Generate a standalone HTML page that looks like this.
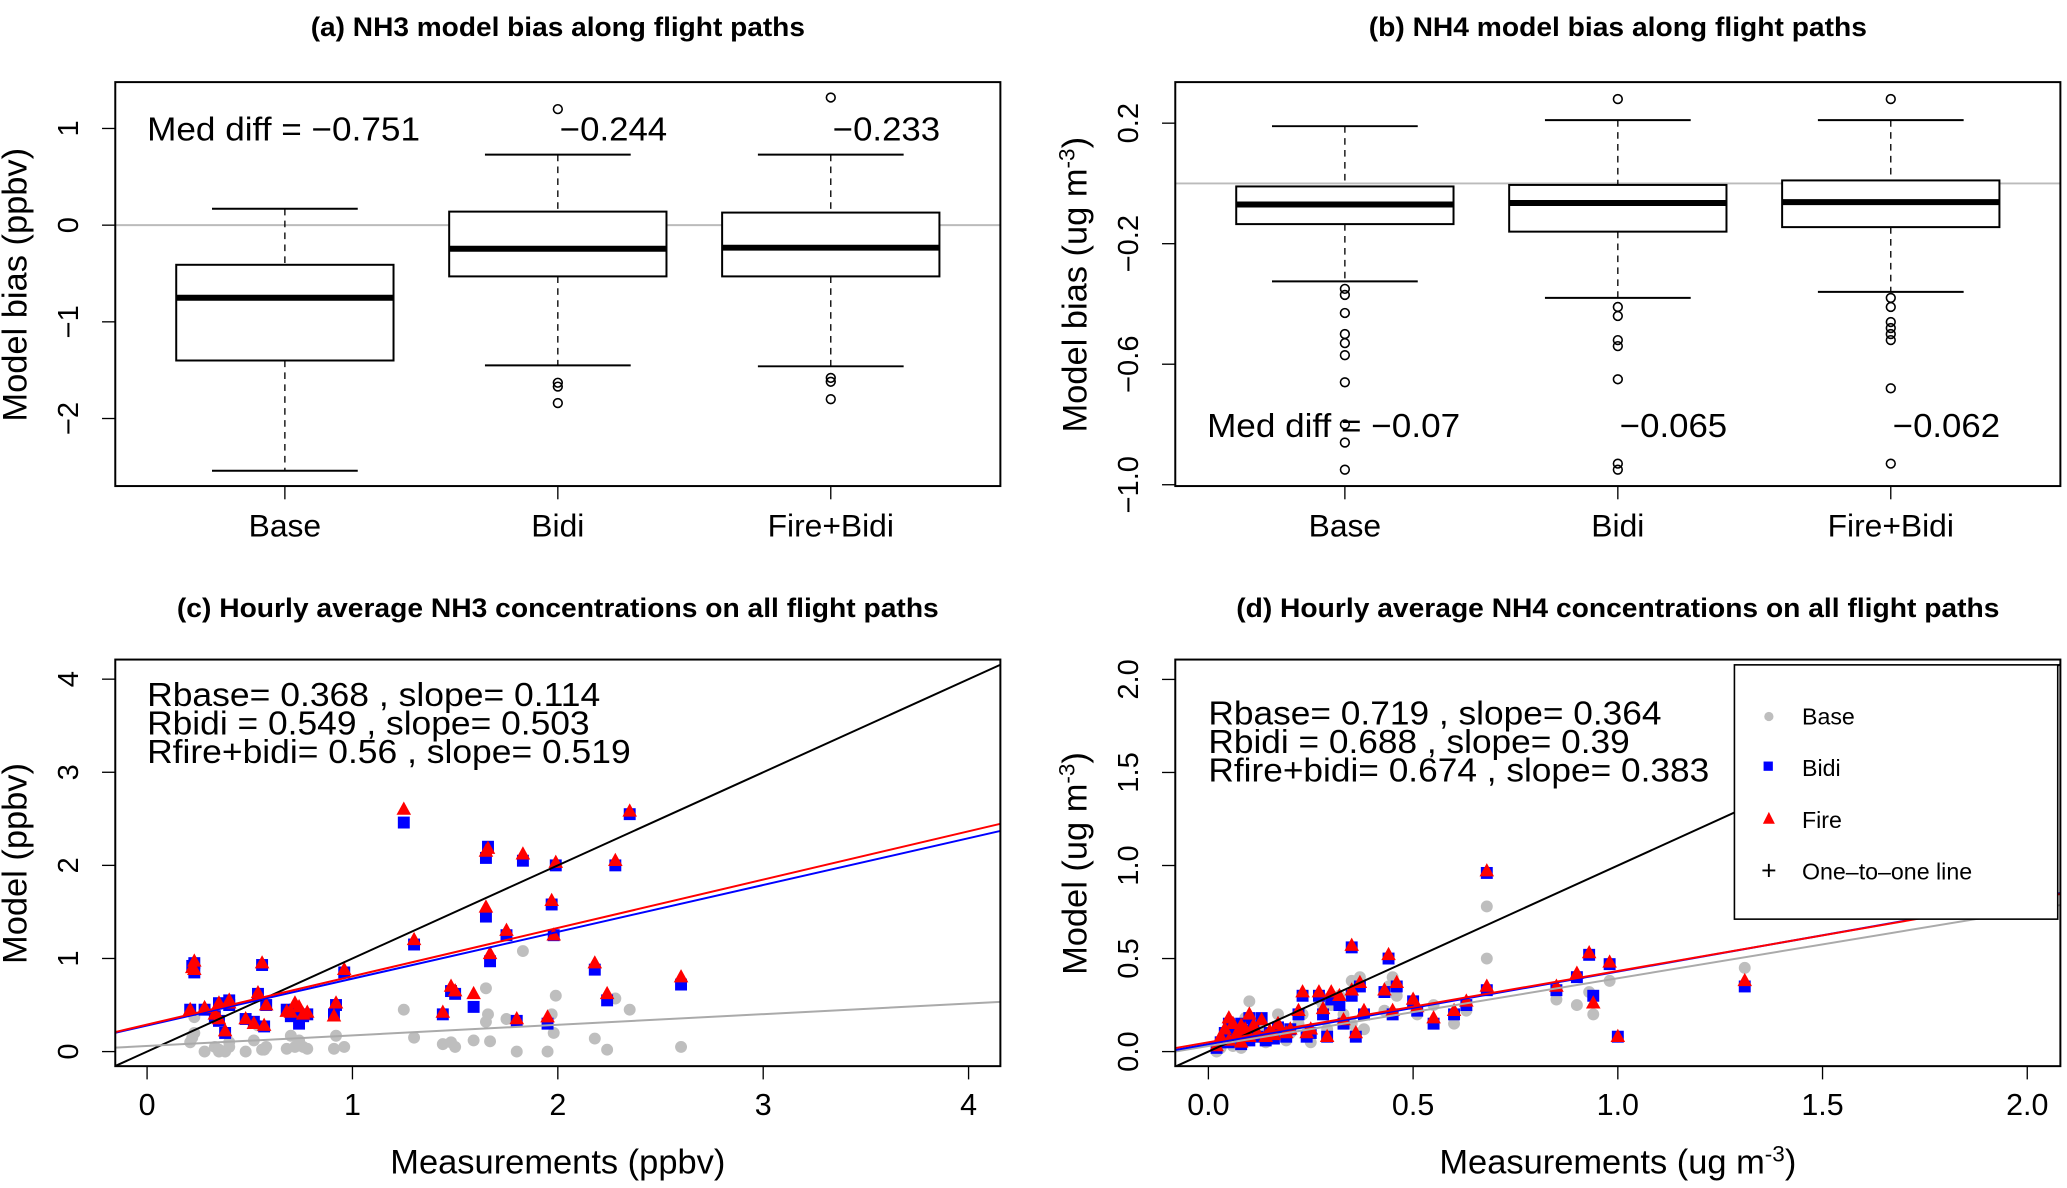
<!DOCTYPE html>
<html><head><meta charset="utf-8"><style>
html,body{margin:0;padding:0;background:#fff}
svg{display:block}
text{font-family:"Liberation Sans",Arial,sans-serif;fill:#000}
</style></head><body>
<svg id="fig" xmlns="http://www.w3.org/2000/svg" width="2067" height="1188" viewBox="0 0 1560 897" preserveAspectRatio="none"></svg>
<script>
// ---- data ----
const groups = ["Base","Bidi","Fire+Bidi"];
// box stats: [lowWhisker, Q1, median, Q3, highWhisker]
const nh3Stats = [[-2.54,-1.4,-0.751,-0.41,0.17],[-1.45,-0.53,-0.244,0.14,0.73],[-1.46,-0.53,-0.233,0.13,0.73]];
const nh3Outliers = [[],[1.2,-1.63,-1.67,-1.84],[1.32,-1.58,-1.62,-1.8]];
const nh3Labels = ["Med diff = \u22120.751","\u22120.244","\u22120.233"];
const nh4Stats = [[-0.325,-0.135,-0.07,-0.01,0.19],[-0.38,-0.16,-0.065,-0.005,0.21],[-0.36,-0.145,-0.062,0.01,0.21]];
const nh4Outliers = [[-0.35,-0.37,-0.43,-0.5,-0.53,-0.57,-0.66,-0.8,-0.86,-0.95],[0.28,-0.41,-0.44,-0.52,-0.54,-0.65,-0.93,-0.95],[0.28,-0.38,-0.41,-0.46,-0.48,-0.5,-0.52,-0.68,-0.93]];
const nh4Labels = ["Med diff = \u22120.07","\u22120.065","\u22120.062"];

const nh3Meas = [0.22,0.23,0.23,0.21,0.28,0.33,0.35,0.35,0.4,0.38,0.4,0.48,0.52,0.54,0.56,0.57,0.58,0.68,0.7,0.72,0.74,0.76,0.78,0.91,0.92,0.96,1.25,1.3,1.44,1.48,1.5,1.59,1.65,1.65,1.66,1.67,1.75,1.8,1.83,1.95,1.97,1.98,1.99,2.18,2.24,2.28,2.35,2.6];
const nh3Bidi = [0.92,0.95,0.85,0.45,0.45,0.38,0.33,0.52,0.55,0.2,0.5,0.35,0.32,0.62,0.93,0.27,0.5,0.45,0.38,0.45,0.3,0.38,0.4,0.4,0.5,0.85,2.46,1.15,0.4,0.65,0.62,0.48,1.45,2.08,2.2,0.97,1.25,0.33,2.05,0.3,1.58,1.25,2.0,0.88,0.55,2.0,2.55,0.72];
const nh3Fire = [0.9,0.97,0.88,0.45,0.47,0.4,0.35,0.52,0.55,0.22,0.52,0.35,0.3,0.63,0.95,0.28,0.5,0.43,0.42,0.52,0.48,0.4,0.42,0.38,0.52,0.88,2.6,1.2,0.42,0.7,0.65,0.62,1.55,2.15,2.18,1.05,1.3,0.35,2.12,0.37,1.62,1.25,2.03,0.95,0.62,2.05,2.58,0.8];
const nh3Base = [0.15,0.2,0.37,0.1,0.0,0.05,0.0,0.02,0.05,0.0,0.1,0.0,0.12,0.28,0.02,0.02,0.05,0.03,0.17,0.05,0.12,0.05,0.03,0.03,0.17,0.05,0.45,0.15,0.08,0.1,0.05,0.12,0.68,0.32,0.4,0.11,0.35,0.0,1.08,0.0,0.4,0.2,0.6,0.14,0.02,0.57,0.45,0.05];
const nh3Fit = {base:[0.06,0.114], bidi:[0.28,0.503], fire:[0.29,0.519]};
const nh3Text = ["Rbase= 0.368 , slope= 0.114","Rbidi = 0.549 , slope= 0.503","Rfire+bidi= 0.56 , slope= 0.519"];

const nh4Meas = [0.02,0.03,0.04,0.05,0.05,0.06,0.07,0.08,0.08,0.09,0.1,0.1,0.11,0.12,0.13,0.14,0.15,0.16,0.17,0.19,0.2,0.22,0.23,0.24,0.25,0.27,0.28,0.29,0.3,0.32,0.33,0.35,0.35,0.36,0.37,0.38,0.43,0.44,0.45,0.46,0.5,0.51,0.55,0.6,0.63,0.68,0.68,0.85,0.9,0.93,0.94,0.98,1.0,1.31];
const nh4Bidi = [0.02,0.05,0.1,0.15,0.05,0.12,0.08,0.15,0.04,0.1,0.18,0.06,0.12,0.08,0.18,0.06,0.1,0.07,0.13,0.08,0.12,0.2,0.3,0.08,0.1,0.3,0.2,0.08,0.28,0.25,0.15,0.56,0.3,0.08,0.35,0.2,0.32,0.5,0.2,0.35,0.27,0.22,0.15,0.2,0.25,0.96,0.33,0.33,0.4,0.52,0.3,0.47,0.08,0.35];
const nh4Fire = [0.03,0.08,0.12,0.18,0.06,0.15,0.1,0.14,0.05,0.12,0.2,0.08,0.14,0.1,0.17,0.08,0.11,0.09,0.15,0.1,0.12,0.22,0.32,0.1,0.12,0.32,0.23,0.08,0.32,0.3,0.17,0.57,0.33,0.1,0.37,0.22,0.33,0.52,0.22,0.37,0.28,0.24,0.18,0.22,0.27,0.97,0.35,0.35,0.42,0.53,0.26,0.48,0.08,0.38];
const nh4Base = [0.0,0.02,0.05,0.08,0.1,0.03,0.12,0.05,0.02,0.18,0.27,0.06,0.1,0.15,0.1,0.05,0.08,0.1,0.2,0.06,0.1,0.15,0.2,0.1,0.05,0.28,0.25,0.12,0.25,0.3,0.2,0.38,0.15,0.1,0.4,0.12,0.22,0.35,0.4,0.3,0.25,0.2,0.25,0.15,0.22,0.78,0.5,0.28,0.25,0.32,0.2,0.38,0.08,0.45];
const nh4Fit = {base:[0.03,0.364], bidi:[0.04,0.39], fire:[0.05,0.383]};
const nh4Text = ["Rbase= 0.719 , slope= 0.364","Rbidi = 0.688 , slope= 0.39","Rfire+bidi= 0.674 , slope= 0.383"];

const nh3XTicks = [0,1,2,3,4];
const nh3YTicks = [0,1,2,3,4];
const nh4Ticks = [0,0.5,1,1.5,2];
const nh4TickLabels = ["0.0","0.5","1.0","1.5","2.0"];
const aTicks = [-2,-1,0,1];
const bTicks = [-1.0,-0.6,-0.2,0.2];
const bTickLabels = ["\u22121.0","\u22120.6","\u22120.2","0.2"];

// ---- drawing ----
const NS="http://www.w3.org/2000/svg";
const svg=document.getElementById('fig');
function mk(tag,attrs,parent,txt){const e=document.createElementNS(NS,tag);for(const k in attrs)e.setAttribute(k,attrs[k]);if(txt!==undefined)e.textContent=txt;(parent||svg).appendChild(e);return e;}
function minus(v){return String(v).replace('-','\u2212');}

function boxPanel(gx0,title,titleLen,yTop,yBot,vTop,vBot,centers,stats,outs,ticks,tickLabels,yTitleParts,labels,labelLens,labelY,name){
  const g=mk('g',{});  
  const Y=v=>yTop+(vTop-v)/(vTop-vBot)*(yBot-yTop);
  const t=mk('text',{x:centers[1],y:27,'text-anchor':'middle','font-size':20,'font-weight':'bold',textLength:titleLen,lengthAdjust:'spacingAndGlyphs'},g,title);
   
  mk('line',{x1:gx0,x2:gx0+668,y1:Y(0),y2:Y(0),stroke:'#bbb','stroke-width':1.5},g);
  stats.forEach((s,i)=>{
    const c=centers[i];
    const bg=mk('g',{},g);  
    mk('line',{x1:c,x2:c,y1:Y(s[4]),y2:Y(s[3]),stroke:'#000','stroke-dasharray':'5,4'},bg);
    mk('line',{x1:c,x2:c,y1:Y(s[1]),y2:Y(s[0]),stroke:'#000','stroke-dasharray':'5,4'},bg);
    mk('line',{x1:c-55,x2:c+55,y1:Y(s[4]),y2:Y(s[4]),stroke:'#000','stroke-width':1.5},bg);
    mk('line',{x1:c-55,x2:c+55,y1:Y(s[0]),y2:Y(s[0]),stroke:'#000','stroke-width':1.5},bg);
    mk('rect',{x:c-82,y:Y(s[3]),width:164,height:Y(s[1])-Y(s[3]),fill:'#fff',stroke:'#000','stroke-width':1.5},bg);
    mk('line',{x1:c-82,x2:c+82,y1:Y(s[2]),y2:Y(s[2]),stroke:'#000','stroke-width':4.5},bg);
    outs[i].forEach(o=>mk('circle',{cx:c,cy:Y(o),r:3.3,fill:'none',stroke:'#000','stroke-width':1.2},bg));
    const xl=mk('text',{x:c,y:405,'text-anchor':'middle','font-size':24},g,groups[i]);
     
    mk('line',{x1:c,x2:c,y1:367,y2:377,stroke:'#000'},g);
  });
  labels.forEach((l,i)=>{
    const lx=i==0?gx0+24:centers[i]+42;
    const tx=mk('text',{x:lx,y:labelY,'text-anchor':i==0?'start':'middle','font-size':25,textLength:labelLens[i],lengthAdjust:'spacingAndGlyphs'},g,l);
     
  });
  mk('rect',{x:gx0,y:62,width:668,height:305,fill:'none',stroke:'#000','stroke-width':1.5},g);
  ticks.forEach((v,i)=>{
    mk('line',{x1:gx0-10,x2:gx0,y1:Y(v),y2:Y(v),stroke:'#000'},g);
    const tl=mk('text',{x:0,y:0,'text-anchor':'middle','font-size':22,transform:`translate(${gx0-28},${Y(v)}) rotate(-90)`},g,tickLabels[i]);
     
  });
  const yt=mk('text',{x:0,y:0,'text-anchor':'middle','font-size':26,transform:`translate(${gx0-67},215) rotate(-90)`},g);
   
  mk('tspan',{},yt,yTitleParts[0]);
  if(yTitleParts.length>1){mk('tspan',{dy:-9,'font-size':17},yt,yTitleParts[1]);mk('tspan',{dy:9},yt,yTitleParts[2]);}
}

boxPanel(87,"(a) NH3 model bias along flight paths",373,97,316,1,-2,[215,421,627],nh3Stats,nh3Outliers,aTicks,aTicks.map(minus),["Model bias (ppbv)"],nh3Labels,[206,81,81],106,'panel-a');
boxPanel(887,"(b) NH4 model bias along flight paths",376,93,366,0.2,-1.0,[1015,1221,1427],nh4Stats,nh4Outliers,bTicks,bTickLabels,["Model bias (ug m","-3",")"],nh4Labels,[191,81,81],330,'panel-b');

function scatterPanel(gx0,title,titleLen,xs,ys,xticks,xtl,yticks,ytl,meas,bidi,fire,base,fit,texts,textLens,xTitle,yTitle,legend,name){
  const g=mk('g',{});  
  const X=v=>xs[0]+(v-xs[2])*xs[1], Y=v=>ys[0]-(v-ys[2])*ys[1];
  const t=mk('text',{x:gx0+334,y:466,'text-anchor':'middle','font-size':20,'font-weight':'bold',textLength:titleLen,lengthAdjust:'spacingAndGlyphs'},g,title);
   
  const cid='clip-'+name; const cp=mk('clipPath',{id:cid},g); mk('rect',{x:gx0,y:498,width:668,height:307},cp);
  const pg=mk('g',{'clip-path':`url(#${cid})`},g);
  const vmin=(gx0-xs[0])/xs[1]+xs[2], vmax=(gx0+668-xs[0])/xs[1]+xs[2];
  base.forEach((b,i)=>{const c=mk('circle',{cx:X(meas[i]),cy:Y(b),r:4.5,fill:'#bebebe'},pg);});
  bidi.forEach((b,i)=>{const s=mk('rect',{x:X(meas[i])-4.5,y:Y(b)-4.5,width:9,height:9,fill:'#0000ff'},pg);});
  fire.forEach((f,i)=>{const x=X(meas[i]),y=Y(f);const p=mk('polygon',{points:`${x},${y-6} ${x-5.5},${y+4} ${x+5.5},${y+4}`,fill:'#ff0000'},pg);});
  const lines=[[1,0,'#000','one-to-one-line'],[fit.base[1],fit.base[0],'#aaa','base-fit-line'],[fit.bidi[1],fit.bidi[0],'#0000ff','bidi-fit-line'],[fit.fire[1],fit.fire[0],'#ff0000','fire-fit-line']];
  lines.forEach(l=>{const e=mk('line',{x1:X(vmin),y1:Y(l[1]+l[0]*vmin),x2:X(vmax),y2:Y(l[1]+l[0]*vmax),stroke:l[2],'stroke-width':1.5},pg);});
  texts.forEach((s,i)=>{const tx=mk('text',{x:xs[0],y:(gx0>500?547:533)+i*21.5,'font-size':25,textLength:textLens[i],lengthAdjust:'spacingAndGlyphs'},g,s);});
  if(legend){
    const lg=mk('g',{},g);  
    mk('rect',{x:1309,y:502,width:244,height:192,fill:'#fff',stroke:'#000','stroke-width':1.2},lg);
    mk('circle',{cx:1335,cy:541,r:3.5,fill:'#bebebe'},lg);
    mk('rect',{x:1331,y:575,width:7,height:7,fill:'#0000ff'},lg);
    mk('polygon',{points:'1335,613 1330.5,622 1339.5,622',fill:'#ff0000'},lg);
    mk('text',{x:1335,y:664,'text-anchor':'middle','font-size':20},lg,'+');
    ['Base','Bidi','Fire','One\u2013to\u2013one line'].forEach((s,i)=>{const e=mk('text',{x:1360,y:547+i*39,'font-size':17.5},lg,s);});
  }
  mk('rect',{x:gx0,y:498,width:668,height:307,fill:'none',stroke:'#000','stroke-width':1.5},g);
  xticks.forEach((v,i)=>{mk('line',{x1:X(v),x2:X(v),y1:805,y2:815,stroke:'#000'},g);const e=mk('text',{x:X(v),y:842,'text-anchor':'middle','font-size':23},g,xtl[i]);});
  yticks.forEach((v,i)=>{mk('line',{x1:gx0-10,x2:gx0,y1:Y(v),y2:Y(v),stroke:'#000'},g);const e=mk('text',{x:0,y:0,'text-anchor':'middle','font-size':22,transform:`translate(${gx0-28},${Y(v)}) rotate(-90)`},g,ytl[i]);});
  const xt=mk('text',{x:gx0+334,y:886,'text-anchor':'middle','font-size':26},g);  
  mk('tspan',{},xt,xTitle[0]); if(xTitle.length>1){mk('tspan',{dy:-9,'font-size':17},xt,xTitle[1]);mk('tspan',{dy:9},xt,xTitle[2]);}
  const yt=mk('text',{x:0,y:0,'text-anchor':'middle','font-size':26,transform:`translate(${gx0-67},652) rotate(-90)`},g);  
  mk('tspan',{},yt,yTitle[0]); if(yTitle.length>1){mk('tspan',{dy:-9,'font-size':17},yt,yTitle[1]);mk('tspan',{dy:9},yt,yTitle[2]);}
}
scatterPanel(87,"(c) Hourly average NH3 concentrations on all flight paths",575,[111,155,0],[794,70.3,0],nh3XTicks,nh3XTicks.map(String),nh3YTicks,nh3YTicks.map(String),nh3Meas,nh3Bidi,nh3Fire,nh3Base,nh3Fit,nh3Text,[342,334,365],["Measurements (ppbv)"],["Model (ppbv)"],false,'panel-c');
scatterPanel(887,"(d) Hourly average NH4 concentrations on all flight paths",576,[912,309,0],[794,140.5,0],nh4Ticks,nh4TickLabels,nh4Ticks,nh4TickLabels,nh4Meas,nh4Bidi,nh4Fire,nh4Base,nh4Fit,nh4Text,[342,318,378],["Measurements (ug m","-3",")"],["Model (ug m","-3",")"],true,'panel-d');
</script>
</body></html>
